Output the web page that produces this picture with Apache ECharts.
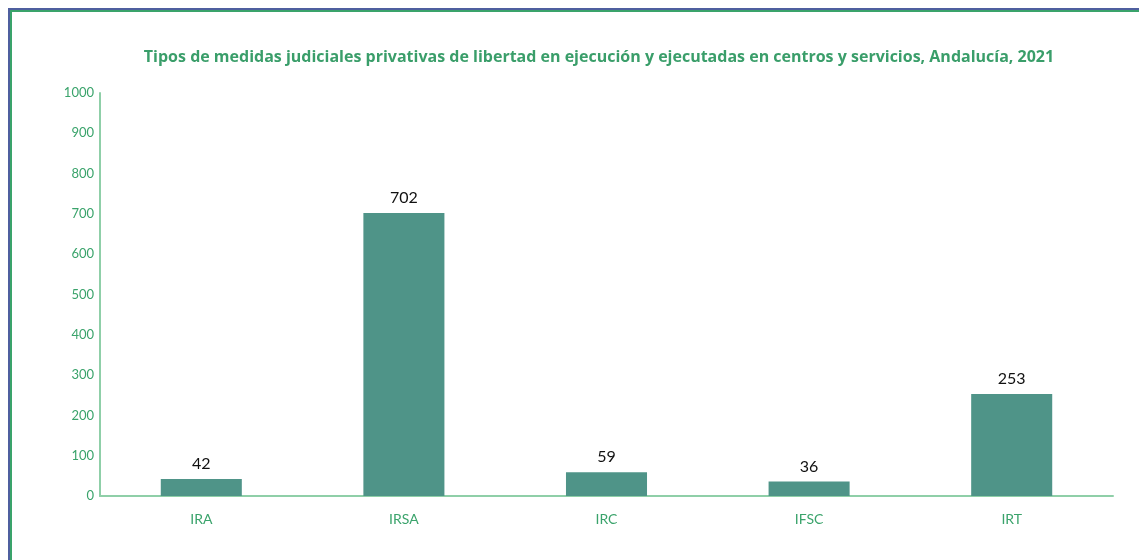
<!DOCTYPE html>
<html>
<head>
<meta charset="utf-8">
<script src="https://cdn.jsdelivr.net/npm/echarts@6/dist/echarts.min.js"></script>
<style>
  html, body { margin: 0; padding: 0; background: #fff; }
  .frame {
    position: absolute; left: 8px; top: 8px; width: 1131px; height: 552px;
    border-left: 2px solid #4f5f9f; border-top: 2px solid #4f5f9f;
    box-sizing: border-box;
  }
  .frame-inner {
    position: absolute; left: 0; top: 0; right: 0; bottom: 0;
    border-left: 2px solid #3aa36b; border-top: 2px solid #3aa36b;
  }
  .diagram { position: absolute; left: 0; top: 0; width: 1139px; height: 560px; }
</style>
</head>
<body>
<div class="frame"><div class="frame-inner"></div></div>
<div class="diagram"></div>
<script>
  // donnees du graphique
  const categories = ["IRA", "IRSA", "IRC", "IFSC", "IRT"];
  const values = [42, 702, 59, 36, 253];

  var chartDom = document.querySelector("div.diagram");
  var myChart = echarts.init(chartDom);
  var option = {
    animation: false,
    title: {
      text: "Tipos de medidas judiciales privativas de libertad en ejecución y ejecutadas en centros y servicios, Andalucía, 2021",
      left: 594,
      textAlign: "center",
      top: 44,
      textStyle: {
        color: "#3a9e6a",
        fontFamily: "Open Sans",
        fontWeight: "bold",
        fontSize: 16,
      },
    },
    grid: {
      top: 93,
      bottom: 64,
      left: 100,
      right: 26,
    },
    xAxis: {
      type: "category",
      data: categories,
      axisLine: { lineStyle: { color: "#8fcfa8", width: 2 } },
      axisTick: { show: false },
      axisLabel: {
        color: "#3aa36b",
        fontFamily: "Lato",
        fontSize: 14,
        margin: 16,
      },
    },
    yAxis: {
      type: "value",
      min: 0,
      max: 1000,
      interval: 100,
      splitLine: { show: false },
      axisLine: { show: true, lineStyle: { color: "#8fcfa8", width: 2 } },
      axisTick: { show: false },
      axisLabel: {
        color: "#3aa36b",
        fontFamily: "Lato",
        fontSize: 13,
        margin: 6,
        formatter: (v) => String(v),
      },
    },
    series: [
      {
        type: "bar",
        data: values,
        barWidth: "40%",
        itemStyle: { color: "#4f9488" },
        label: {
          show: true,
          position: "top",
          distance: 7,
          color: "#111",
          fontFamily: "Lato",
          fontSize: 16,
        },
      },
    ],
  };
  myChart.setOption(option);
</script>
</body>
</html>
